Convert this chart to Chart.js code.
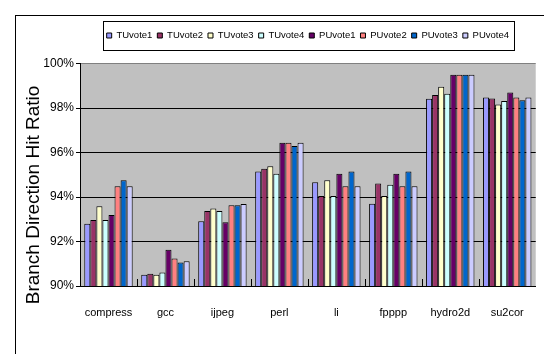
<!DOCTYPE html>
<html>
<head>
<meta charset="utf-8">
<script src="https://cdn.jsdelivr.net/npm/chart.js@4/dist/chart.umd.min.js"></script>
<style>
  html, body { margin: 0; padding: 0; background: #fff; }
  #wrap { width: 544px; height: 354px; }
</style>
</head>
<body>
<div id="wrap"><canvas id="c" width="544" height="354"></canvas></div>
<script>
// Benchmarks on the category axis
const categories = ['compress', 'gcc', 'ijpeg', 'perl', 'li', 'fpppp', 'hydro2d', 'su2cor'];

// Branch direction hit ratio (%) per predictor
const TUvote1 = [92.80, 90.51, 92.91, 95.15, 94.66, 93.70, 98.42, 98.47];
const TUvote2 = [92.97, 90.55, 93.37, 95.27, 94.04, 94.61, 98.58, 98.43];
const TUvote3 = [93.58, 90.51, 93.48, 95.38, 94.75, 94.04, 98.96, 98.16];
const TUvote4 = [92.97, 90.61, 93.37, 95.05, 94.04, 94.55, 98.64, 98.31];
const PUvote1 = [93.19, 91.63, 92.86, 96.44, 95.05, 95.05, 99.50, 98.70];
const PUvote2 = [94.48, 91.24, 93.63, 96.44, 94.48, 94.48, 99.50, 98.47];
const PUvote3 = [94.75, 91.06, 93.63, 96.29, 95.15, 95.15, 99.50, 98.35];
const PUvote4 = [94.48, 91.11, 93.69, 96.44, 94.48, 94.48, 99.50, 98.47];

// Y axis range and tick labels
const yTicks = [90, 92, 94, 96, 98, 100];
const yTickLabels = ['90%', '92%', '94%', '96%', '98%', '100%'];
const yTitle = 'Branch Direction Hit Ratio';

const seriesNames = ['TUvote1', 'TUvote2', 'TUvote3', 'TUvote4', 'PUvote1', 'PUvote2', 'PUvote3', 'PUvote4'];
const seriesValues = [TUvote1, TUvote2, TUvote3, TUvote4, PUvote1, PUvote2, PUvote3, PUvote4];
const seriesColors = ['#9999FF', '#993366', '#FFFFCC', '#CCFFFF', '#660066', '#FF8080', '#0066CC', '#CCCCFF'];

const sans = "'Liberation Sans', Arial, Helvetica, sans-serif";
const LEGEND_CY = 35.5;

// Page frame, grey plot background, axis title, legend placement/box and inner category ticks
const decor = {
  id: 'decor',
  afterLayout(chart) {
    const lg = chart.legend, ca = chart.chartArea;
    const dx = (ca.left + ca.right) / 2 - (lg.left + lg.right) / 2;
    lg.left += dx; lg.right += dx;
    const fs = lg.options.labels.font.size;
    const dy = LEGEND_CY - (lg.top + lg.options.labels.padding + fs / 2);
    lg.top += dy; lg.bottom += dy;
  },
  beforeDraw(chart) {
    const ctx = chart.ctx, ca = chart.chartArea;
    ctx.save();
    ctx.fillStyle = '#fff';
    ctx.fillRect(0, 0, chart.width, chart.height);
    ctx.strokeStyle = '#000';
    ctx.lineWidth = 1;
    ctx.strokeRect(15.5, 15.5, 700, 700);
    ctx.fillStyle = '#C0C0C0';
    ctx.fillRect(ca.left, ca.top, ca.right - ca.left, ca.bottom - ca.top);
    ctx.restore();
  },
  afterDraw(chart) {
    const ctx = chart.ctx, ca = chart.chartArea, x = chart.scales.x;
    ctx.save();
    ctx.strokeStyle = '#000';
    ctx.lineWidth = 1;
    for (let i = 1; i < categories.length; i++) {
      const px = Math.round((x.getPixelForTick(i - 1) + x.getPixelForTick(i)) / 2) + 0.5;
      ctx.beginPath();
      ctx.moveTo(px, ca.bottom);
      ctx.lineTo(px, ca.bottom - 7);
      ctx.stroke();
    }
    // legend frame
    const hb = chart.legend.legendHitBoxes;
    if (hb && hb.length) {
      const l = Math.round(hb[0].left - 4) + 0.5;
      const last = hb[hb.length - 1];
      const r = Math.round(last.left + last.width + 5) + 0.5;
      const t = Math.round(LEGEND_CY - 14.5) + 0.5;
      ctx.strokeRect(l, t, r - l, 29);
    }
    // value axis title
    ctx.translate(34, 195);
    ctx.rotate(-Math.PI / 2);
    ctx.fillStyle = '#000';
    ctx.font = '19px ' + sans;
    ctx.textAlign = 'center';
    ctx.textBaseline = 'middle';
    ctx.fillText(yTitle, 0, 0);
    ctx.restore();
  }
};

new Chart(document.getElementById('c'), {
  type: 'bar',
  data: {
    labels: categories,
    datasets: seriesNames.map((name, i) => ({
      label: name,
      data: seriesValues[i],
      backgroundColor: seriesColors[i],
      borderColor: '#000',
      borderWidth: 1,
      borderSkipped: false
    }))
  },
  options: {
    responsive: false,
    animation: false,
    devicePixelRatio: 1,
    layout: { padding: { left: 15, right: 4, top: 39, bottom: 0 } },
    datasets: { bar: { categoryPercentage: 0.85, barPercentage: 1.0 } },
    plugins: {
      legend: {
        position: 'top',
        labels: {
          boxWidth: 5,
          boxHeight: 5,
          padding: 5,
          color: '#000',
          font: { family: sans, size: 9.5 }
        }
      },
      tooltip: { enabled: false }
    },
    scales: {
      x: {
        grid: { display: false, drawTicks: false },
        border: { display: true, color: '#000', width: 1 },
        ticks: {
          color: '#000',
          padding: 20,
          maxRotation: 0,
          autoSkip: false,
          font: { family: sans, size: 11 }
        },
        afterFit(s) { s.height = 68; }
      },
      y: {
        min: 90,
        max: 100,
        afterBuildTicks(s) { s.ticks = yTicks.map(v => ({ value: v })); },
        grid: {
          color: c => (c.tick && c.tick.value === 100 ? '#808080' : '#000'),
          tickColor: '#000',
          tickLength: 4,
          lineWidth: 1
        },
        border: { display: true, color: '#000', width: 1 },
        ticks: {
          color: '#000',
          padding: 2,
          font: { family: sans, size: 12 },
          callback: v => yTickLabels[yTicks.indexOf(v)]
        },
        afterFit(s) { s.width = 65; }
      }
    }
  },
  plugins: [decor]
});
</script>
</body>
</html>
